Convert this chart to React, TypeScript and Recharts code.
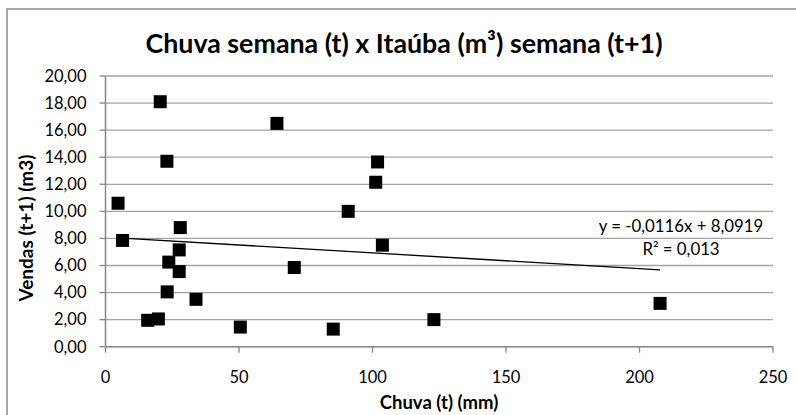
import React from "react";
import {
  ScatterChart,
  Scatter,
  XAxis,
  YAxis,
  CartesianGrid,
  ReferenceLine,
  Customized,
} from "recharts";

const chuva = [20.5, 23.0, 4.7, 28.0, 6.4, 27.6, 23.7, 27.6, 23.1, 33.9, 15.8, 19.8, 64.2, 101.9, 101.2, 90.9, 103.7, 70.7, 50.5, 85.3, 123.0, 207.7];
const vendas = [18.1, 13.7, 10.6, 8.8, 7.85, 7.15, 6.25, 5.55, 4.05, 3.5, 1.95, 2.05, 16.5, 13.65, 12.15, 10.0, 7.5, 5.85, 1.45, 1.3, 2.0, 3.2];
const trendX = [4.7, 207.7];
const trendY = [8.04, 5.68];
const xTicks = [0, 50, 100, 150, 200, 250];
const yTicks = [0, 2, 4, 6, 8, 10, 12, 14, 16, 18, 20];

const title = "Chuva semana (t) x Itaúba (m³) semana (t+1)";
const xLabel = "Chuva (t) (mm)";
const yLabel = "Vendas (t+1) (m3)";
const eqLine1 = "y = -0,0116x + 8,0919";
const eqLine2 = "R² = 0,013";

const data = chuva.map((x, i) => ({ x, y: vendas[i] }));

const FONT = "Lato, 'Open Sans', sans-serif";

const Square = (props: any) => {
  const { cx, cy } = props;
  if (cx == null || cy == null) return null;
  return <rect x={cx - 6.5} y={cy - 6.5} width={13} height={13} fill="#000" />;
};

const Texts = () => (
  <g fontFamily={FONT}>
    <text x={404} y={43} textAnchor="middle" dominantBaseline="central" fontSize={26.8} fontWeight="bold" fill="#000">
      {title}
    </text>
    <text x={439} y={402} textAnchor="middle" dominantBaseline="central" fontSize={18.5} fontWeight="bold" fill="#000">
      {xLabel}
    </text>
    <text
      x={25}
      y={228}
      textAnchor="middle"
      dominantBaseline="central"
      fontSize={19}
      fontWeight="bold"
      fill="#000"
      transform="rotate(-90 25 228)"
    >
      {yLabel}
    </text>
    <text x={681} y={225} textAnchor="middle" dominantBaseline="central" fontSize={16.8} fill="#000">
      {eqLine1}
    </text>
    <text x={681} y={248} textAnchor="middle" dominantBaseline="central" fontSize={16.8} fill="#000">
      {eqLine2}
    </text>
  </g>
);

export default function App() {
  return (
    <div style={{ position: "absolute", left: 0, top: 0, width: 796, height: 415, overflow: "hidden", background: "#fff" }}>
      <div
        style={{
          position: "absolute",
          left: 6,
          top: 8,
          width: 820,
          height: 440,
          borderLeft: "2px solid #a6a6a6",
          borderTop: "2px solid #a6a6a6",
        }}
      />
      <div style={{ position: "absolute", left: 0, top: 0 }}>
        <ScatterChart
          width={796}
          height={415}
          margin={{ top: 76, right: 23, bottom: 18.3, left: 5.5 }}
        >
          <CartesianGrid horizontal={true} vertical={false} stroke="#a3a3a3" strokeWidth={1.3} />
          <XAxis
            type="number"
            dataKey="x"
            domain={[0, 250]}
            ticks={xTicks}
            height={50}
            tickSize={6}
            tickMargin={19}
            axisLine={{ stroke: "#878787", strokeWidth: 1.5 }}
            tickLine={{ stroke: "#878787", strokeWidth: 1.3 }}
            tick={{ fill: "#000", fontSize: 16.5, fontFamily: FONT }}
            interval={0}
          />
          <YAxis
            type="number"
            dataKey="y"
            domain={[0, 20]}
            ticks={yTicks}
            width={100}
            tickSize={6}
            tickMargin={13}
            axisLine={{ stroke: "#878787", strokeWidth: 1.5 }}
            tickLine={{ stroke: "#878787", strokeWidth: 1.3 }}
            tick={{ fill: "#000", fontSize: 16.5, fontFamily: FONT }}
            tickFormatter={(v: number) => v.toFixed(2).replace(".", ",")}
            interval={0}
          />
          <ReferenceLine
            segment={[
              { x: trendX[0], y: trendY[0] },
              { x: trendX[1], y: trendY[1] },
            ]}
            stroke="#000"
            strokeWidth={1.3}
            ifOverflow="visible"
          />
          <Scatter data={data} shape={<Square />} isAnimationActive={false} />
          <Customized component={Texts} />
        </ScatterChart>
      </div>
    </div>
  );
}
